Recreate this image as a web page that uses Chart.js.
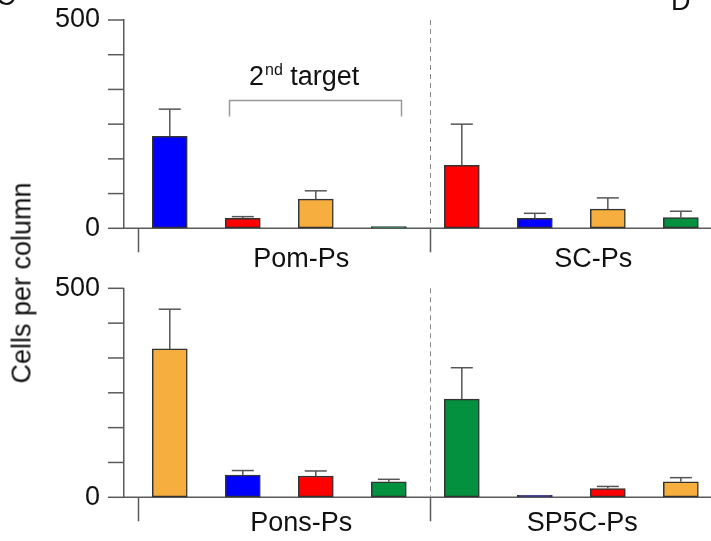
<!DOCTYPE html>
<html>
<head>
<meta charset="utf-8">
<script src="https://cdn.jsdelivr.net/npm/chart.js@4.4.1/dist/chart.umd.min.js"></script>
<style>
  html, body { margin: 0; padding: 0; background: #fff; overflow: hidden; }
  #wrap { position: relative; width: 711px; height: 541px; }
  .panel { position: absolute; left: 0; }
  #yTitle {
    position: absolute; left: 22px; top: 283px;
    transform: translate(-50%, -50%) rotate(-90deg);
    font: 27px Arial, "Liberation Sans", sans-serif; color: #111; white-space: nowrap;
  }
</style>
</head>
<body>
<div id="wrap">
  <div class="panel" style="top:0"><canvas id="topPanel" width="711" height="268"></canvas></div>
  <div class="panel" style="top:268px"><canvas id="bottomPanel" width="711" height="273"></canvas></div>
  <div id="yTitle">Cells per column</div>
</div>
<script>
// --- data (cells per column, mean and SEM) ---
const topGroups    = ["Pom-Ps", "SC-Ps"];
const topCells     = ["blue", "red", "orange", "green", "red", "blue", "orange", "green"];
const topMeans     = [221, 24, 70, 4, 151, 24, 46, 26];
const topErrors    = [65, 4, 20, 0, 99, 12, 27, 15];

const bottomGroups = ["Pons-Ps", "SP5C-Ps"];
const bottomCells  = ["orange", "blue", "red", "green", "green", "blue", "red", "orange"];
const bottomMeans  = [355, 53, 51, 37, 235, 5, 21, 37];
const bottomErrors = [95, 11, 12, 6, 75, 0, 5, 10];

const yLabelled = [0, 500];
const yMax = 500;
const yDivisions = 6;

const COLORS = {
  blue:   "#0000FF",
  red:    "#FF0000",
  orange: "#F6AE3F",
  green:  "#03903F",
};
const AXIS = "#5a5a5a";
const FONT = 'Arial, "Liberation Sans", sans-serif';

function line(ctx, x1, y1, x2, y2) {
  ctx.beginPath();
  ctx.moveTo(x1, y1);
  ctx.lineTo(x2, y2);
  ctx.stroke();
}

const panelDecor = {
  id: "panelDecor",
  beforeDatasetsDraw(chart, args, o) {
    const { ctx, chartArea: a, scales: { x, y } } = chart;
    const y0 = y.getPixelForValue(0);
    ctx.save();
    ctx.strokeStyle = AXIS;
    ctx.lineWidth = 1.5;
    line(ctx, a.left, y0, a.right, y0);

    // y tick marks, labelled and unlabelled
    for (let i = 0; i <= yDivisions; i++) {
      const ty = y.getPixelForValue((i * yMax) / yDivisions);
      line(ctx, a.left - 16, ty, a.left, ty);
    }

    // group edges: solid tick below axis, dashed divider between groups
    for (let g = 0; g <= o.groups.length; g++) {
      const ex = Math.round(x.getPixelForValue(g * 4 - 0.43)) + 0.5;
      ctx.setLineDash([]);
      ctx.strokeStyle = AXIS;
      ctx.lineWidth = 1.5;
      line(ctx, ex, y0, ex, y0 + 24);
      if (g > 0 && g < o.groups.length) {
        ctx.setLineDash([5, 4]);
        ctx.strokeStyle = "#888";
        ctx.lineWidth = 1;
        line(ctx, ex, a.top, ex, y0);
      }
    }
    ctx.setLineDash([]);

    // group labels
    ctx.fillStyle = "#111";
    ctx.font = "27px " + FONT;
    ctx.textAlign = "center";
    ctx.textBaseline = "alphabetic";
    o.groups.forEach((name, g) => {
      ctx.fillText(name, x.getPixelForValue(g * 4 + o.labelAt[g]), y0 + o.labelGap);
    });
    ctx.restore();
  },
  afterDatasetsDraw(chart, args, o) {
    const { ctx, scales: { y } } = chart;
    const meta = chart.getDatasetMeta(0);
    ctx.save();
    ctx.strokeStyle = "#555";
    ctx.lineWidth = 1.5;
    meta.data.forEach((bar, i) => {
      const e = o.errors[i];
      if (!e) return;
      const yt = y.getPixelForValue(chart.data.datasets[0].data[i].y + e);
      line(ctx, bar.x, bar.y, bar.x, yt);
      line(ctx, bar.x - 11, yt, bar.x + 11, yt);
    });

    if (o.bracket) {
      const { x } = chart.scales;
      const b = o.bracket;
      const l = Math.round(x.getPixelForValue(b.from) - 14) + 0.5;
      const r = Math.round(x.getPixelForValue(b.to) + 12) + 0.5;
      const by = 100.5;
      ctx.strokeStyle = "#999";
      ctx.lineWidth = 1.5;
      ctx.beginPath();
      ctx.moveTo(l, by + 16);
      ctx.lineTo(l, by);
      ctx.lineTo(r, by);
      ctx.lineTo(r, by + 16);
      ctx.stroke();

      ctx.fillStyle = "#111";
      ctx.textAlign = "left";
      ctx.textBaseline = "alphabetic";
      let tx = 249;
      ctx.font = "27px " + FONT;
      ctx.fillText("2", tx, 85);
      tx += ctx.measureText("2").width + 1;
      ctx.font = "16px " + FONT;
      ctx.fillText("nd", tx, 75);
      tx += ctx.measureText("nd").width;
      ctx.font = "27px " + FONT;
      ctx.fillText(" target", tx, 85);
    }

    if (o.letters) {
      ctx.fillStyle = "#111";
      ctx.font = "27px " + FONT;
      ctx.textAlign = "left";
      ctx.fillText("C", -4, 5);
      ctx.fillText("D", 671, 10);
    }
    ctx.restore();
  },
};

function makePanel(id, groups, cells, means, errors, extra) {
  const ctx = document.getElementById(id).getContext("2d");
  return new Chart(ctx, {
    type: "bar",
    data: {
      datasets: [{
        data: means.map((v, i) => ({ x: i, y: v })),
        backgroundColor: cells.map((c) => COLORS[c]),
        borderColor: "#333",
        borderWidth: 1.5,
        borderSkipped: false,
        barThickness: 35,
      }],
    },
    options: {
      responsive: false,
      animation: false,
      events: [],
      layout: { padding: { top: extra.padTop, bottom: extra.padBottom, left: 0, right: 0 } },
      plugins: {
        legend: { display: false },
        tooltip: { enabled: false },
        panelDecor: {
          groups,
          errors,
          labelGap: extra.labelGap,
          labelAt: extra.labelAt,
          bracket: extra.bracket,
          letters: extra.letters,
        },
      },
      scales: {
        x: { type: "linear", display: false, offset: false, grid: { offset: false }, min: -0.627, max: 7.413 },
        y: {
          min: 0,
          max: yMax,
          afterFit: (s) => { s.width = 124; },
          afterBuildTicks: (s) => {
            s.ticks = yLabelled.map((v) => ({ value: v }));
          },
          border: { color: AXIS, width: 1.5 },
          grid: { drawOnChartArea: false, drawTicks: true, tickLength: 24, color: "rgba(0,0,0,0)" },
          ticks: {
            autoSkip: false,
            color: "#111",
            padding: 0,
            font: { size: 27, family: FONT },
          },
        },
      },
    },
    plugins: [panelDecor],
  });
}

makePanel("topPanel", topGroups, topCells, topMeans, topErrors, {
  padTop: 20, padBottom: 39.7, labelGap: 39, labelAt: [1.8, 1.8],
  bracket: { from: 1, to: 3 }, letters: true,
});
makePanel("bottomPanel", bottomGroups, bottomCells, bottomMeans, bottomErrors, {
  padTop: 20.3, padBottom: 43.7, labelGap: 33.5, labelAt: [1.8, 1.65],
});
</script>
</body>
</html>
